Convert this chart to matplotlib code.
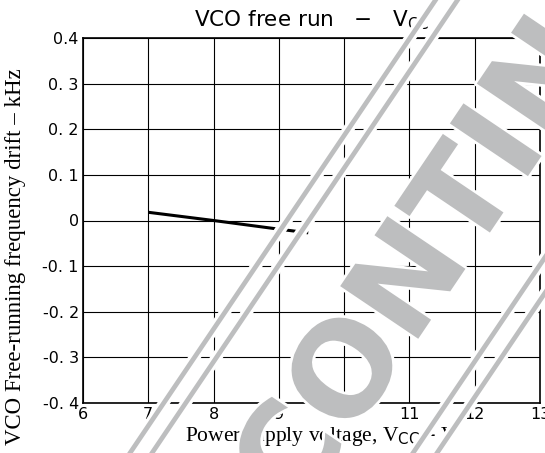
import numpy as np
import matplotlib
matplotlib.use("Agg")
import matplotlib.pyplot as plt
from matplotlib.lines import Line2D
import matplotlib.patheffects as pe

# VCO free-running frequency drift vs supply voltage
vcc = [7.0, 8.0, 9.0, 9.45]
drift = [0.018, 0.0, -0.019, -0.027]

xticks = [6, 7, 8, 9, 10, 11, 12, 13]
yticks = [0.4, 0.3, 0.2, 0.1, 0.0, -0.1, -0.2, -0.3, -0.4]
ytick_labels = ["0.4", "0. 3", "0. 2", "0. 1", "0", "-0. 1", "-0. 2", "-0. 3", "-0. 4"]

W, H = 545, 453
fig = plt.figure(figsize=(W / 100, H / 100), dpi=100)
ax = fig.add_axes([83 / W, 1 - 403 / H, 457 / W, 365 / H])

ax.plot(vcc, drift, color="black", lw=2.2, solid_capstyle="butt")

ax.set_xlim(6, 13)
ax.set_ylim(-0.4, 0.4)
ax.set_xticks(xticks)
ax.set_yticks(yticks)
ax.set_yticklabels(ytick_labels)
ax.grid(True, color="black", lw=0.8)
ax.tick_params(length=0, labelsize=11.5, pad=3)
for s in ax.spines.values():
    s.set_linewidth(1.2)

serif = ["Liberation Serif", "DejaVu Serif"]
ax.set_title(r"VCO free run   $-$   V$_{\mathrm{CC}}$", fontsize=15.5, pad=8)
fig.text(16 / W, 1 - 257 / H, "VCO Free-running frequency drift – kHz",
         rotation=90, ha="center", va="center", fontsize=16.5, family=serif)
fig.text(322 / W, 1 - 437 / H, r"Power supply voltage, V$_{\rm CC}$ – V",
         ha="center", va="center", fontsize=15.5, family=serif)

# stamp overlay: double frame lines and lettering
grey = "#bdbebf"
ang = 56.0
k = 1 / np.tan(np.radians(ang))
halo = [pe.Stroke(linewidth=8, foreground="white"), pe.Normal()]
for x0 in [130, 152, 413, 437]:
    ys = np.array([-20, H + 20])
    xs = x0 + k * (453 - ys)
    fig.add_artist(Line2D(xs / W, 1 - ys / H, color=grey, lw=3.4,
                          transform=fig.transFigure, zorder=9, path_effects=halo))

fig.text(438 / W, 1 - 246 / H, "DISCONTINUED", rotation=ang, rotation_mode="anchor",
         ha="center", va="center", fontsize=93, fontweight="bold", color=grey,
         zorder=10, path_effects=[pe.withStroke(linewidth=4, foreground="white")])

fig.savefig("out.png", dpi=100)
